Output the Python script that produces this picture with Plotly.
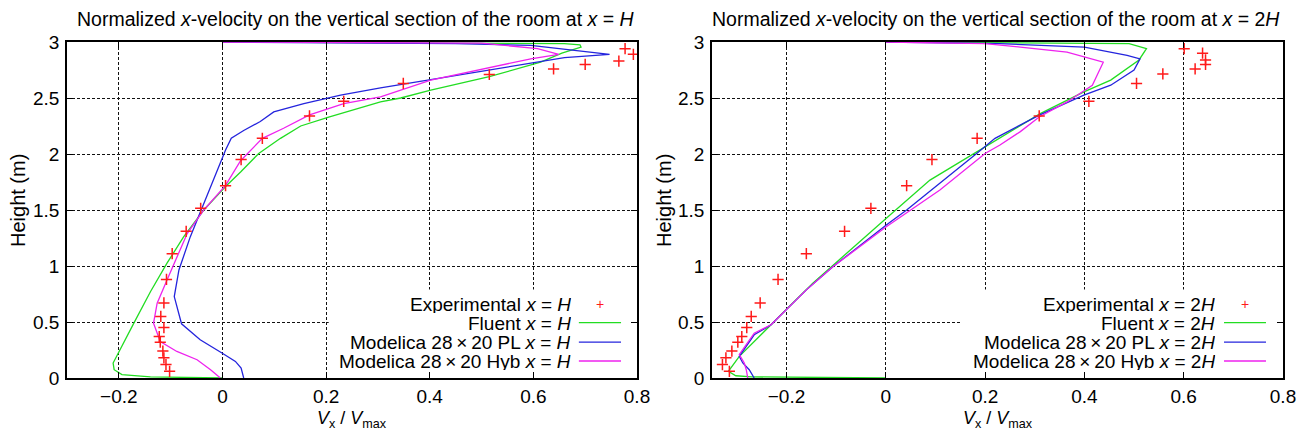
import plotly.graph_objects as go

W, H = 1307, 437

# ---------------- data: x = H ----------------
exp_h_H = [0.06, 0.12, 0.18, 0.24, 0.32, 0.37, 0.45, 0.55, 0.67, 0.88, 1.11, 1.31, 1.515,
           1.717, 1.95, 2.14, 2.34, 2.47, 2.63, 2.71, 2.76, 2.80, 2.83, 2.89, 2.94]
exp_v_H = [-0.102, -0.109, -0.113, -0.115, -0.12, -0.122, -0.113, -0.119, -0.113, -0.108,
           -0.097, -0.070, -0.042, 0.006, 0.036, 0.077, 0.168, 0.234, 0.349, 0.515, 0.639,
           0.700, 0.765, 0.793, 0.777]

fluent_h_H = [3.0, 2.99, 2.985, 2.975, 2.955, 2.90, 2.82, 2.69, 2.57, 2.50, 2.465, 2.33, 2.25,
              2.14, 2.005, 1.84, 1.71, 1.50, 1.26, 1.025, 0.77, 0.49, 0.237, 0.134, 0.074,
              0.03, 0.01, 0.0]
fluent_v_H = [0.0, 0.60, 0.66, 0.69, 0.692, 0.655, 0.614, 0.515, 0.402, 0.344, 0.305, 0.205,
              0.151, 0.112, 0.070, 0.035, 0.006, -0.036, -0.075, -0.107, -0.139, -0.171,
              -0.200, -0.211, -0.209, -0.194, -0.139, 0.0]

pl_h_H = [3.0, 2.985, 2.97, 2.92, 2.89, 2.86, 2.75, 2.67, 2.63, 2.59, 2.525, 2.45, 2.376,
          2.29, 2.21, 2.14, 2.035, 1.856, 1.56, 1.262, 0.965, 0.727, 0.484, 0.341, 0.223,
          0.148, 0.089, 0.0]
pl_v_H = [0.0, 0.45, 0.595, 0.698, 0.747, 0.66, 0.515, 0.402, 0.349, 0.305, 0.228, 0.157,
          0.099, 0.073, 0.041, 0.017, 0.006, -0.010, -0.036, -0.062, -0.084, -0.093, -0.079,
          -0.043, -0.001, 0.025, 0.036, 0.041]

hyb_h_H = [3.0, 2.99, 2.94, 2.89, 2.85, 2.77, 2.66, 2.51, 2.45, 2.35, 2.23, 2.14, 2.035,
           1.94, 1.72, 1.50, 1.29, 1.084, 0.876, 0.668, 0.49, 0.326, 0.237, 0.163, 0.074, 0.0]
hyb_v_H = [0.0, 0.50, 0.608, 0.649, 0.595, 0.515, 0.402, 0.305, 0.234, 0.168, 0.118, 0.077,
           0.054, 0.035, 0.006, -0.036, -0.068, -0.088, -0.107, -0.126, -0.133, -0.120,
           -0.088, -0.049, -0.023, -0.004]

# ---------------- data: x = 2H ----------------
exp_h_2H = [0.06, 0.12, 0.18, 0.24, 0.32, 0.37, 0.45, 0.55, 0.67, 0.88, 1.11, 1.31, 1.515,
            1.717, 1.95, 2.14, 2.34, 2.47, 2.63, 2.715, 2.76, 2.80, 2.84, 2.90, 2.94]
exp_v_2H = [-0.315, -0.329, -0.322, -0.310, -0.298, -0.290, -0.280, -0.271, -0.253, -0.217,
            -0.160, -0.083, -0.030, 0.042, 0.093, 0.184, 0.309, 0.409, 0.505, 0.558, 0.623,
            0.644, 0.644, 0.638, 0.601]

fluent_h_2H = [3.0, 2.99, 2.985, 2.94, 2.84, 2.66, 2.555, 2.36, 2.02, 1.767, 1.426, 1.114,
               0.847, 0.609, 0.475, 0.193, 0.06, 0.02, 0.01, 0.0]
fluent_v_2H = [0.0, 0.30, 0.49, 0.525, 0.51, 0.453, 0.399, 0.311, 0.183, 0.089, 0.001,
               -0.079, -0.147, -0.201, -0.231, -0.295, -0.317, -0.302, -0.27, 0.0]

pl_h_2H = [3.0, 2.985, 2.955, 2.88, 2.85, 2.75, 2.614, 2.525, 2.347, 2.14, 2.005, 1.738,
           1.50, 1.366, 0.995, 0.787, 0.609, 0.475, 0.386, 0.193, 0.134, 0.074, 0.0]
pl_v_2H = [0.0, 0.23, 0.40, 0.486, 0.512, 0.50, 0.453, 0.399, 0.309, 0.220, 0.183, 0.109,
           0.042, 0.001, -0.106, -0.160, -0.201, -0.231, -0.265, -0.295, -0.288, -0.275,
           -0.265]

hyb_h_2H = [3.0, 2.985, 2.955, 2.91, 2.82, 2.614, 2.465, 2.33, 2.20, 2.08, 2.005, 1.678,
            1.35, 0.995, 0.787, 0.609, 0.475, 0.40, 0.21, 0.134, 0.074, 0.0]
hyb_v_2H = [0.0, 0.2, 0.271, 0.365, 0.438, 0.416, 0.365, 0.309, 0.271, 0.23, 0.2, 0.109,
            0.001, -0.106, -0.16, -0.201, -0.231, -0.265, -0.295, -0.285, -0.281, -0.278]

x_ticks = [-0.2, 0, 0.2, 0.4, 0.6, 0.8]
y_ticks = [0, 0.5, 1, 1.5, 2, 2.5, 3]

titles = ["Normalized <i>x</i>-velocity on the vertical section of the room at <i>x</i> = <i>H</i>",
          "Normalized <i>x</i>-velocity on the vertical section of the room at <i>x</i> = 2<i>H</i>"]
pos_labels = ["<i>H</i>", "2<i>H</i>"]
legend_names = ["Experimental", "Fluent", "Modelica 28\u2009\u00d7\u200920 PL",
                "Modelica 28\u2009\u00d7\u200920 Hyb"]

GREEN, BLUE, MAGENTA, RED = "#22dd22", "#2424dd", "#ee22ee", "#ff1a1a"
FONT = "Liberation Sans, Arial, Helvetica, sans-serif"

# pixel layout
plot_px = [(67, 637, -0.3), (712, 1283, -0.35)]
ylabel_px = [18, 664]
top_px, bot_px = 42, 378

fig = go.Figure()

panels = [
    (exp_v_H, exp_h_H, fluent_v_H, fluent_h_H, pl_v_H, pl_h_H, hyb_v_H, hyb_h_H),
    (exp_v_2H, exp_h_2H, fluent_v_2H, fluent_h_2H, pl_v_2H, pl_h_2H, hyb_v_2H, hyb_h_2H),
]

for i, (ev, eh, fv, fh, pv, ph, hv, hh) in enumerate(panels):
    xa = "x" if i == 0 else "x2"
    ya = "y" if i == 0 else "y2"
    lw = 1.3
    fig.add_trace(go.Scatter(x=fv, y=fh, mode="lines", line=dict(color=GREEN, width=lw),
                             xaxis=xa, yaxis=ya, showlegend=False))
    fig.add_trace(go.Scatter(x=pv, y=ph, mode="lines", line=dict(color=BLUE, width=lw),
                             xaxis=xa, yaxis=ya, showlegend=False))
    fig.add_trace(go.Scatter(x=hv, y=hh, mode="lines", line=dict(color=MAGENTA, width=lw),
                             xaxis=xa, yaxis=ya, showlegend=False))
    fig.add_trace(go.Scatter(x=ev, y=eh, mode="markers",
                             marker=dict(symbol="cross-thin", size=8,
                                         line=dict(color=RED, width=1.5)),
                             xaxis=xa, yaxis=ya, showlegend=False))

axis_common = dict(showline=True, linecolor="black", linewidth=1.5, mirror="ticks",
                   ticks="inside", ticklen=6, tickcolor="black", tickwidth=1,
                   showgrid=True, gridcolor="#111111", gridwidth=1, griddash="3px,2px",
                   zeroline=False, automargin=False,
                   tickfont=dict(family=FONT, size=19, color="black"))

layout_axes = {}
for i, (x0, x1, xmin) in enumerate(plot_px):
    sfx = "" if i == 0 else "2"
    layout_axes["xaxis" + sfx] = dict(domain=[x0 / W, x1 / W], range=[xmin, 0.8],
                                      tickvals=x_ticks, anchor="y" + sfx, ticklabelstandoff=0,
                                      **axis_common)
    layout_axes["yaxis" + sfx] = dict(domain=[1 - bot_px / H, 1 - top_px / H], range=[0, 3],
                                      tickvals=y_ticks, anchor="x" + sfx, ticklabelstandoff=2,
                                      **axis_common)

fig.update_layout(width=W, height=H, margin=dict(l=0, r=0, t=0, b=0), template="none",
                  plot_bgcolor="white", paper_bgcolor="white", showlegend=False,
                  font=dict(family=FONT, size=19, color="black"), **layout_axes)

annotations = []
shapes = []
title_cx = [355, 996]
for i, (x0, x1, xmin) in enumerate(plot_px):
    sfx = "" if i == 0 else "2"
    annotations.append(dict(text=titles[i], x=title_cx[i] / W, y=1 - 19 / H, xref="paper",
                            yref="paper", showarrow=False, xanchor="center", yanchor="middle",
                            font=dict(size=19.5)))
    annotations.append(dict(text="Height (m)", x=ylabel_px[i] / W, y=1 - 201 / H,
                            xref="paper", yref="paper", showarrow=False, textangle=-90,
                            xanchor="center", yanchor="middle", font=dict(size=20)))
    annotations.append(dict(text="<i>V</i><sub>x</sub> / <i>V</i><sub>max</sub>",
                            x=(x0 + x1) / 2 / W, y=1 - 419 / H, xref="paper", yref="paper",
                            showarrow=False, xanchor="center", yanchor="middle",
                            font=dict(size=18)))
    # opaque legend box (hides grid lines, like the original key)
    box_x0 = 0.205 if i == 0 else 0.15
    shapes.append(dict(type="rect", xref="x" + sfx, yref="y" + sfx, x0=box_x0, x1=0.8,
                       y0=0, y1=0.79, fillcolor="white", line=dict(width=0), layer="between"))
    # legend rows
    row_y = [0.220, 0.1646, 0.107, 0.0506]
    text_r = 0.8877 if i == 0 else 0.8844
    s0 = 0.898 if i == 0 else 0.8967
    s1 = 0.972 if i == 0 else 0.9702
    colors = [None, GREEN, BLUE, MAGENTA]
    for r in range(4):
        annotations.append(dict(text=f"{legend_names[r]} <i>x</i> = {pos_labels[i]}",
                                x=text_r, y=row_y[r], xref="x" + sfx + " domain",
                                yref="y" + sfx + " domain", showarrow=False, height=18,
                                xanchor="right", yanchor="middle", font=dict(size=19)))
        if r == 0:
            annotations.append(dict(text="+", x=(s0 + s1) / 2, y=row_y[r],
                                    xref="x" + sfx + " domain", yref="y" + sfx + " domain",
                                    showarrow=False, xanchor="center", yanchor="middle",
                                    height=14, font=dict(size=14, color=RED)))
        else:
            shapes.append(dict(type="line", xref="x" + sfx + " domain",
                               yref="y" + sfx + " domain", x0=s0, x1=s1, y0=row_y[r],
                               y1=row_y[r], line=dict(color=colors[r], width=1.3)))

fig.update_layout(annotations=annotations, shapes=shapes)
fig.write_html("out.html", config={"displayModeBar": False},
               post_script="document.body.style.margin='0';")
